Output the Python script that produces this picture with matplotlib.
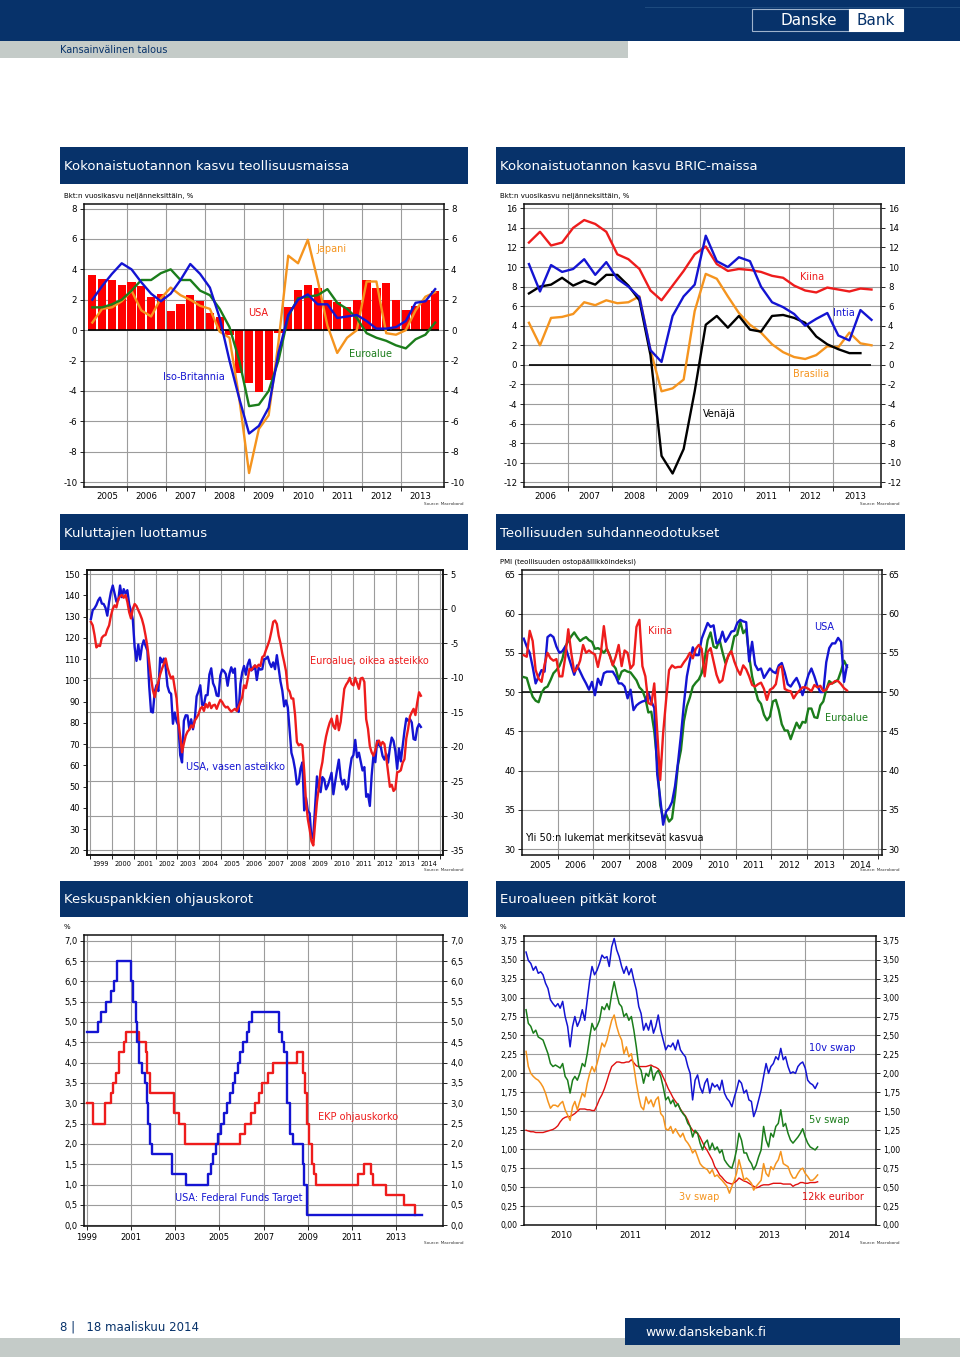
import numpy as np
import pandas as pd
import matplotlib
matplotlib.use("Agg")
import matplotlib.pyplot as plt
from matplotlib.patches import Rectangle
from matplotlib.ticker import FuncFormatter

plt.rcParams['font.family'] = ['DejaVu Sans']
plt.rcParams['axes.unicode_minus'] = False

# ---------------- DATA ----------------
# Chart 1: GDP growth, industrialised countries, quarterly 2005Q1-2013Q4
c1_usa = [3.6, 3.35, 3.3, 3.0, 3.15, 2.9, 2.15, 2.4, 1.25, 1.7, 2.3, 1.9,
          1.1, 0.85, -0.3, -2.8, -3.5, -4.1, -3.3, -0.2, 1.55, 2.65, 3.0, 2.75,
          2.0, 1.85, 1.55, 2.0, 3.3, 2.8, 3.1, 2.0, 1.3, 1.6, 2.0, 2.55]
c1_uk = [2.0, 2.9, 3.7, 4.4, 4.0, 3.15, 2.4, 1.9, 2.4, 3.3, 4.35, 3.7,
         2.8, 0.8, -2.0, -4.5, -6.8, -6.3, -5.1, -1.5, 1.0, 2.0, 2.35, 1.7,
         1.7, 0.8, 0.9, 1.0, 0.6, 0.1, 0.1, 0.2, 0.6, 1.8, 1.9, 2.7]
c1_euro = [1.5, 1.5, 1.7, 2.0, 2.6, 3.3, 3.3, 3.75, 4.0, 3.3, 3.3, 2.6,
           2.3, 1.4, 0.2, -2.0, -5.0, -4.9, -4.0, -2.0, 0.9, 2.1, 2.2, 2.3,
           2.7, 1.8, 1.4, 0.8, -0.2, -0.5, -0.7, -1.0, -1.2, -0.6, -0.3, 0.5]
c1_japan = [0.5, 1.4, 1.5, 1.9, 2.6, 1.3, 0.9, 2.1, 2.8, 2.3, 2.0, 1.6,
            1.4, -0.1, -0.5, -4.5, -9.4, -6.5, -5.6, -0.8, 4.9, 4.4, 5.95, 3.3,
            0.3, -1.5, -0.5, 0.0, 3.2, 3.2, -0.2, -0.3, 0.0, 1.3, 2.2, 2.5]
c1_years = list(range(2005, 2014))

# Chart 2: GDP growth, BRIC, quarterly 2006Q1-2013Q4
c2_china = [12.5, 13.6, 12.2, 12.5, 14.0, 14.8, 14.4, 13.6, 11.3, 10.8, 9.8, 7.6,
            6.6, 8.1, 9.6, 11.3, 12.1, 10.3, 9.6, 9.8, 9.7, 9.5, 9.1, 8.9,
            8.1, 7.6, 7.4, 7.9, 7.7, 7.5, 7.8, 7.7]
c2_india = [10.3, 7.5, 10.2, 9.5, 9.8, 10.8, 9.2, 10.5, 8.8, 8.0, 6.9, 1.5,
            0.3, 5.0, 7.0, 8.2, 13.2, 10.6, 10.0, 11.0, 10.6, 8.0, 6.4, 5.9,
            5.2, 4.0, 4.7, 5.3, 3.0, 2.5, 5.6, 4.6]
c2_russia = [7.3, 8.0, 8.2, 8.9, 8.1, 8.6, 8.2, 9.2, 9.2, 8.1, 6.6, 1.0,
             -9.3, -11.1, -8.6, -2.7, 4.1, 5.0, 3.8, 5.0, 3.6, 3.4, 5.0, 5.1,
             4.8, 4.3, 2.9, 2.1, 1.6, 1.2, 1.2]
c2_brazil = [4.3, 2.0, 4.8, 4.9, 5.2, 6.4, 6.1, 6.6, 6.3, 6.4, 7.0, 1.5,
             -2.7, -2.4, -1.5, 5.5, 9.3, 8.8, 7.0, 5.3, 4.1, 3.3, 2.1, 1.3,
             0.8, 0.6, 1.0, 1.9, 1.8, 3.3, 2.2, 2.0]
c2_years = list(range(2006, 2014))

# Chart 3: consumer confidence, monthly Jan 1999 - Feb 2014
c3_usa = [128.9, 133.1, 134.0, 135.5, 137.7, 139.0, 136.2, 136.0, 134.2, 130.5, 137.0, 141.7,
          144.7, 140.8, 137.1, 137.7, 144.7, 139.2, 143.0, 140.8, 142.5, 135.8, 132.6, 128.6,
          115.7, 109.2, 116.9, 109.9, 116.1, 118.9, 116.3, 114.0, 97.0, 85.3, 84.9, 94.6,
          97.8, 95.0, 110.7, 108.5, 110.3, 106.3, 97.4, 94.5, 93.7, 79.6, 84.9, 80.7,
          78.8, 64.8, 61.4, 81.0, 83.6, 83.5, 77.0, 81.7, 77.0, 81.7, 92.5, 94.8,
          97.7, 88.5, 88.5, 93.0, 93.1, 102.8, 105.7, 98.7, 96.7, 92.9, 92.6, 102.3,
          105.1, 104.4, 103.0, 97.5, 103.1, 106.2, 103.6, 105.6, 87.5, 85.2, 98.3, 103.8,
          106.8, 102.7, 107.5, 109.8, 104.7, 105.4, 107.0, 100.2, 105.9, 105.1, 105.3, 110.0,
          110.2, 111.2, 108.2, 106.3, 108.5, 105.3, 111.9, 105.6, 99.5, 95.2, 87.8, 90.6,
          87.3, 76.4, 65.9, 62.8, 58.1, 51.0, 51.9, 58.5, 61.4, 38.8, 44.7, 38.6,
          37.4, 25.3, 26.9, 40.8, 54.8, 49.3, 47.4, 54.5, 53.4, 48.7, 50.6, 53.6,
          56.5, 46.4, 52.3, 57.7, 62.7, 54.3, 51.0, 53.2, 48.6, 49.9, 57.8, 63.4,
          64.8, 72.0, 63.8, 66.0, 61.7, 57.6, 59.2, 45.2, 46.4, 40.9, 55.2, 64.8,
          61.5, 71.6, 69.5, 68.7, 64.4, 62.7, 65.4, 61.3, 68.4, 73.1, 71.5, 66.7,
          58.4, 68.0, 61.9, 69.0, 76.2, 82.1, 81.0, 81.8, 80.2, 72.4, 72.0, 77.5,
          79.4, 78.1]
c3_euro = [-1.9, -2.4, -3.8, -5.6, -5.3, -5.4, -4.2, -3.9, -3.8, -3.0, -2.4, -1.0,
           0.0, 0.5, 0.2, 1.4, 1.8, 2.0, 1.6, 2.0, 1.0, -0.5, -1.4, 0.0,
           0.7, 0.4, -0.2, -0.8, -1.5, -2.5, -3.9, -5.5, -7.7, -10.0, -11.8, -12.8,
           -11.5, -10.6, -9.5, -8.7, -8.0, -7.2, -8.5, -9.4, -10.1, -9.8, -11.5, -13.0,
           -16.4, -18.5, -20.8, -19.5, -18.4, -17.8, -17.5, -16.9, -17.2, -16.2, -15.8, -15.3,
           -14.5, -14.2, -14.8, -13.8, -14.3, -13.6, -14.4, -14.0, -13.9, -14.5, -13.8, -13.2,
           -13.5, -14.0, -14.3, -14.2, -14.6, -14.9, -14.7, -14.5, -14.8, -14.2, -13.5, -12.8,
           -11.1, -11.5, -10.2, -8.7, -8.9, -8.5, -8.2, -8.5, -8.1, -8.3, -7.0, -6.8,
           -6.0, -5.3, -4.5, -3.3, -1.9, -1.7, -2.2, -3.9, -5.0, -6.5, -7.7, -9.0,
           -11.6, -12.0, -13.0, -13.0, -15.4, -19.3, -19.8, -19.6, -19.8, -23.5, -28.0, -30.5,
           -32.0, -33.7, -34.3, -31.0, -28.0, -26.0, -23.5, -22.2, -20.0, -18.5, -17.4, -16.5,
           -15.9, -17.0, -17.4, -15.5, -17.6, -16.4, -14.0, -11.6, -11.0, -10.6, -10.0, -10.9,
           -11.1, -10.0, -10.8, -11.6, -10.1, -10.0, -10.6, -16.0, -17.4, -19.9, -20.8, -21.3,
           -20.5, -19.3, -19.1, -19.8, -19.3, -19.6, -21.5, -23.7, -25.8, -25.5, -26.4, -26.1,
           -23.7, -23.6, -23.4, -22.3, -21.8, -18.8, -17.4, -15.6, -15.0, -14.5, -15.4, -13.6,
           -12.1, -12.6]
c3_years = list(range(1999, 2015))

# Chart 4: manufacturing PMI, monthly Jan 2005 - Feb 2014
c4_usa = [56.8, 55.8, 55.0, 53.2, 51.1, 52.0, 52.8, 52.6, 57.0, 57.3, 57.0, 55.8,
          55.0, 55.2, 55.8, 54.6, 53.4, 52.2, 53.4, 52.6, 51.8, 51.1, 50.3, 51.3,
          49.6, 51.7, 50.9, 52.4, 52.6, 52.6, 52.6, 52.0, 51.1, 51.1, 50.7, 49.2,
          50.3, 47.7, 48.3, 48.6, 48.8, 48.9, 49.9, 48.8, 48.0, 39.5, 36.5, 33.1,
          34.8, 35.2, 36.0, 38.0, 41.0, 44.5, 48.5, 52.0, 54.0, 55.7, 54.7, 54.7,
          56.8, 57.8, 58.8, 58.3, 58.5, 56.2, 56.4, 57.7, 56.4, 57.0, 57.7, 57.8,
          58.8, 59.2, 59.0, 58.9, 53.9, 56.4, 53.5, 52.8, 53.0, 51.8, 52.4, 53.0,
          52.6, 52.4, 53.4, 53.7, 52.5, 51.0, 50.7, 51.3, 51.8, 50.9, 49.6, 50.9,
          52.2, 53.0, 52.0, 50.8, 50.0, 50.0, 53.8, 55.6, 56.2, 56.2, 56.9, 56.4,
          51.3, 53.4]
c4_china = [54.7, 54.5, 57.8, 56.5, 52.8, 51.7, 51.3, 53.5, 55.0, 54.3, 54.0, 54.2,
            52.0, 52.0, 54.5, 58.0, 55.0, 52.6, 53.0, 54.0, 56.0, 55.0, 55.3, 55.0,
            54.8, 53.2, 55.0, 58.4, 55.5, 54.6, 53.4, 54.5, 56.0, 53.3, 55.3, 55.0,
            53.0, 53.5, 58.3, 59.2, 53.3, 52.0, 48.6, 48.4, 51.1, 45.0, 38.8, 44.8,
            49.0, 52.8, 53.4, 53.1, 53.2, 53.2, 53.8, 54.3, 55.0, 54.3, 55.5, 56.0,
            55.5, 52.0, 55.1, 55.6, 53.9, 52.2, 51.2, 51.5, 53.4, 54.7, 55.2, 53.9,
            52.9, 52.2, 53.4, 52.9, 52.0, 50.9, 50.7, 51.0, 51.2, 50.4, 49.0, 50.3,
            50.5, 51.0, 53.1, 53.3, 50.4, 50.2, 50.1, 49.2, 49.8, 50.2, 50.6, 50.6,
            50.4, 50.1, 50.9, 50.6, 50.8, 50.1, 50.3, 51.0, 51.1, 51.4, 51.4, 51.0,
            50.5, 50.2]
c4_euro = [51.9, 51.8, 50.5, 49.4, 48.9, 48.7, 49.9, 50.5, 50.7, 51.5, 52.4, 52.8,
           53.3, 54.2, 55.8, 56.5, 57.1, 57.6, 57.0, 56.5, 56.8, 57.0, 56.6, 56.4,
           55.5, 55.6, 55.4, 55.0, 55.5, 54.7, 53.5, 53.0, 51.6, 52.6, 52.8, 52.6,
           52.5, 52.0, 51.5, 50.6, 50.2, 49.2, 47.4, 47.5, 45.0, 41.1, 35.6, 33.9,
           34.4, 33.5, 33.9, 36.8, 40.7, 42.6, 46.3, 48.2, 49.3, 50.7, 51.2, 51.6,
           52.4, 54.2, 56.6, 57.6, 55.8, 55.6, 56.7, 55.1, 53.7, 54.6, 55.3, 57.1,
           57.3, 59.0, 57.5, 58.0, 54.6, 52.0, 50.4, 49.0, 48.5, 47.1, 46.4, 46.9,
           48.8, 49.0, 47.7, 45.9, 45.1, 45.1, 44.0, 45.1, 46.1, 45.4, 46.2, 46.1,
           47.9, 47.9, 46.8, 46.7, 48.3, 48.8, 50.3, 51.4, 51.1, 51.3, 51.6, 52.7,
           54.0, 53.2]
c4_years = list(range(2005, 2015))

# Chart 5: policy rates (change dates, new level)
c5_fed_dates = ["1999-01-01", "1999-06-30", "1999-08-24", "1999-11-16", "2000-02-02", "2000-03-21",
                "2000-05-16", "2001-01-03", "2001-01-31", "2001-03-20", "2001-04-18", "2001-05-15",
                "2001-06-27", "2001-08-21", "2001-09-17", "2001-10-02", "2001-11-06", "2001-12-11",
                "2002-11-06", "2003-06-25", "2004-06-30", "2004-08-10", "2004-09-21", "2004-11-10",
                "2004-12-14", "2005-02-02", "2005-03-22", "2005-05-03", "2005-06-30", "2005-08-09",
                "2005-09-20", "2005-11-01", "2005-12-13", "2006-01-31", "2006-03-28", "2006-05-10",
                "2006-06-29", "2007-09-18", "2007-10-31", "2007-12-11", "2008-01-22", "2008-01-30",
                "2008-03-18", "2008-04-30", "2008-10-08", "2008-10-29", "2008-12-16", "2014-03-10"]
c5_fed = [4.75, 5.00, 5.25, 5.50, 5.75, 6.00, 6.50, 6.00, 5.50, 5.00, 4.50, 4.00,
          3.75, 3.50, 3.00, 2.50, 2.00, 1.75, 1.25, 1.00, 1.25, 1.50, 1.75, 2.00,
          2.25, 2.50, 2.75, 3.00, 3.25, 3.50, 3.75, 4.00, 4.25, 4.50, 4.75, 5.00,
          5.25, 4.75, 4.50, 4.25, 3.50, 3.00, 2.25, 2.00, 1.50, 1.00, 0.25, 0.25]
c5_ecb_dates = ["1999-01-01", "1999-04-09", "1999-11-05", "2000-02-04", "2000-03-17", "2000-04-28",
                "2000-06-09", "2000-09-01", "2000-10-06", "2001-05-11", "2001-08-31", "2001-09-18",
                "2001-11-09", "2002-12-06", "2003-03-07", "2003-06-06", "2005-12-06", "2006-03-08",
                "2006-06-15", "2006-08-09", "2006-10-11", "2006-12-13", "2007-03-14", "2007-06-13",
                "2008-07-09", "2008-10-15", "2008-11-12", "2008-12-10", "2009-01-21", "2009-03-11",
                "2009-04-08", "2009-05-13", "2011-04-13", "2011-07-13", "2011-11-09", "2011-12-14",
                "2012-07-11", "2013-05-08", "2013-11-13", "2013-11-15"]
c5_ecb = [3.00, 2.50, 3.00, 3.25, 3.50, 3.75, 4.25, 4.50, 4.75, 4.50, 4.25, 3.75,
          3.25, 2.75, 2.50, 2.00, 2.25, 2.50, 2.75, 3.00, 3.25, 3.50, 3.75, 4.00,
          4.25, 3.75, 3.25, 2.50, 2.00, 1.50, 1.25, 1.00, 1.25, 1.50, 1.25, 1.00,
          0.75, 0.50, 0.25, 0.25]
c5_ticks = list(range(1999, 2014, 2))

# Chart 6: euro long rates, roughly biweekly Jan 2010 - Mar 2014
c6_start, c6_end = "2010-01-01", "2014-03-10"
c6_swap10 = [3.60, 3.49, 3.45, 3.36, 3.41, 3.32, 3.34, 3.30, 3.19, 3.12,
             2.97, 2.92, 2.88, 2.92, 2.86, 2.95, 2.75, 2.62, 2.35, 2.62,
             2.75, 2.62, 2.70, 2.84, 2.70, 2.97, 3.23, 3.41, 3.30, 3.36,
             3.45, 3.56, 3.52, 3.54, 3.41, 3.67, 3.78, 3.63, 3.54, 3.41,
             3.32, 3.41, 3.30, 3.38, 3.23, 3.10, 2.88, 2.79, 2.57, 2.66,
             2.57, 2.70, 2.53, 2.62, 2.77, 2.57, 2.44, 2.31, 2.37, 2.35,
             2.40, 2.31, 2.44, 2.31, 2.26, 2.22, 2.09, 2.00, 1.65, 1.91,
             1.98, 1.82, 1.74, 1.87, 1.93, 1.74, 1.87, 1.82, 1.85, 1.78,
             1.91, 1.74, 1.67, 1.63, 1.56, 1.69, 1.78, 1.91, 1.87, 1.74,
             1.78, 1.65, 1.63, 1.43, 1.52, 1.65, 1.78, 1.96, 2.13, 2.00,
             2.09, 2.13, 2.22, 2.18, 2.33, 2.18, 2.22, 2.09, 2.00, 2.02,
             2.00, 2.09, 2.13, 2.15, 2.07, 1.91, 1.87, 1.85, 1.80, 1.87]
c6_swap5 = [2.84, 2.66, 2.62, 2.53, 2.57, 2.48, 2.46, 2.44, 2.35, 2.26,
            2.13, 2.09, 2.11, 2.09, 2.07, 2.13, 1.96, 1.91, 1.74, 1.91,
            1.96, 1.91, 2.00, 2.13, 2.09, 2.26, 2.48, 2.66, 2.57, 2.62,
            2.70, 2.88, 2.84, 2.92, 2.84, 3.05, 3.21, 3.05, 2.92, 2.88,
            2.75, 2.79, 2.70, 2.75, 2.57, 2.35, 2.09, 2.04, 1.87, 2.00,
            1.96, 2.09, 1.91, 2.00, 2.04, 1.96, 1.82, 1.65, 1.69, 1.60,
            1.65, 1.56, 1.60, 1.52, 1.47, 1.43, 1.34, 1.30, 1.16, 1.25,
            1.21, 1.08, 0.99, 1.08, 1.12, 0.99, 1.08, 0.99, 1.03, 0.95,
            0.99, 0.86, 0.81, 0.77, 0.75, 0.86, 0.99, 1.21, 1.12, 0.95,
            0.95, 0.86, 0.81, 0.73, 0.79, 0.90, 0.99, 1.30, 1.12, 1.03,
            1.21, 1.16, 1.30, 1.34, 1.52, 1.30, 1.34, 1.21, 1.12, 1.08,
            1.12, 1.16, 1.21, 1.27, 1.16, 1.08, 1.03, 1.01, 0.99, 1.03]
c6_swap3 = [2.29, 2.09, 2.00, 1.96, 1.93, 1.91, 1.87, 1.82, 1.74, 1.63,
            1.54, 1.58, 1.58, 1.56, 1.60, 1.63, 1.52, 1.45, 1.38, 1.56,
            1.63, 1.52, 1.63, 1.74, 1.69, 1.87, 2.00, 2.09, 2.02, 2.13,
            2.26, 2.40, 2.35, 2.44, 2.57, 2.70, 2.77, 2.62, 2.51, 2.44,
            2.26, 2.35, 2.22, 2.26, 2.09, 1.87, 1.69, 1.56, 1.52, 1.69,
            1.60, 1.65, 1.56, 1.65, 1.69, 1.47, 1.43, 1.27, 1.25, 1.30,
            1.21, 1.27, 1.21, 1.16, 1.21, 1.12, 1.08, 1.03, 0.95, 0.99,
            0.90, 0.81, 0.77, 0.75, 0.73, 0.68, 0.73, 0.64, 0.66, 0.62,
            0.59, 0.55, 0.51, 0.42, 0.51, 0.59, 0.68, 0.86, 0.73, 0.59,
            0.62, 0.59, 0.55, 0.46, 0.51, 0.55, 0.59, 0.81, 0.68, 0.64,
            0.77, 0.73, 0.81, 0.86, 0.97, 0.81, 0.79, 0.77, 0.68, 0.62,
            0.62, 0.68, 0.73, 0.75, 0.68, 0.64, 0.59, 0.59, 0.62, 0.66]
c6_euribor = [1.25, 1.24, 1.23, 1.23, 1.22, 1.22, 1.22, 1.22, 1.23, 1.24,
              1.25, 1.26, 1.28, 1.31, 1.36, 1.40, 1.42, 1.43, 1.43, 1.45,
              1.47, 1.50, 1.53, 1.53, 1.53, 1.52, 1.52, 1.51, 1.51, 1.58,
              1.66, 1.72, 1.80, 1.90, 2.00, 2.09, 2.12, 2.15, 2.15, 2.14,
              2.14, 2.15, 2.15, 2.18, 2.14, 2.10, 2.09, 2.09, 2.09, 2.09,
              2.10, 2.11, 2.09, 2.08, 2.06, 2.02, 1.95, 1.88, 1.80, 1.74,
              1.68, 1.63, 1.59, 1.53, 1.48, 1.44, 1.38, 1.30, 1.25, 1.22,
              1.21, 1.16, 1.09, 1.03, 0.98, 0.92, 0.86, 0.77, 0.72, 0.66,
              0.63, 0.59, 0.56, 0.55, 0.54, 0.56, 0.58, 0.62, 0.60, 0.58,
              0.57, 0.55, 0.53, 0.51, 0.49, 0.50, 0.52, 0.53, 0.53, 0.53,
              0.54, 0.55, 0.55, 0.55, 0.55, 0.54, 0.54, 0.54, 0.54, 0.51,
              0.53, 0.54, 0.56, 0.56, 0.55, 0.55, 0.56, 0.56, 0.56, 0.57]
c6_years = list(range(2010, 2015))

# ---------------- HELPERS ----------------
W, H = 960, 1357
NAVY = '#07326a'
GRAYBAND = '#c4cbc8'
GRID = '#9c9c9c'
RED = '#ee1c1c'
BLUE = '#1414d2'
GREEN = '#1b7d1b'
ORANGE = '#f5941e'

fig = plt.figure(figsize=(W / 100, H / 100), dpi=100)


def add_ax(x0, y0, x1, y1):
    return fig.add_axes([x0 / W, 1 - y1 / H, (x1 - x0) / W, (y1 - y0) / H])


def rect(x0, y0, x1, y1, **kw):
    fig.add_artist(Rectangle((x0 / W, 1 - y1 / H), (x1 - x0) / W, (y1 - y0) / H,
                             transform=fig.transFigure, **kw))


def ftext(x, y, s, **kw):
    fig.text(x / W, 1 - y / H, s, **kw)


def decyear(s):
    ts = pd.Timestamp(s)
    return ts.year + (ts.dayofyear - 1) / 365.25


def style(ax, fs_y, fs_x):
    for sp in ax.spines.values():
        sp.set_linewidth(1.1)
        sp.set_color('#111111')
    ax.tick_params(axis='y', which='major', labelsize=fs_y, length=3, width=0.6, pad=2,
                   left=True, right=True, labelleft=True, labelright=True)
    ax.tick_params(axis='x', which='major', length=3, width=0.6, labelsize=fs_x, pad=3)
    ax.tick_params(axis='x', which='minor', length=0, labelsize=fs_x, pad=4)
    ax.set_axisbelow(True)


def year_mid_labels(ax, years, fs):
    ax.set_xticks([y + 0.5 for y in years], minor=True)
    ax.set_xticklabels([str(y) for y in years], minor=True, fontsize=fs)


def src(x, y):
    ftext(x, y, 'Source: Macrobond', fontsize=3, ha='right', va='center', color='#333333')


comma1 = FuncFormatter(lambda v, p: f"{v:.1f}".replace('.', ','))
comma2 = FuncFormatter(lambda v, p: f"{v:.2f}".replace('.', ','))

# ---------------- PAGE DECORATION ----------------
rect(0, 0, 960, 41, color=NAVY, lw=0)
rect(645, 7, 960, 8, color='#1d4a7e', lw=0)
rect(0, 41, 628, 58, color=GRAYBAND, lw=0)
ftext(60, 50, 'Kansainvälinen talous', fontsize=7, color=NAVY, va='center', ha='left')
rect(752, 9, 849, 31, facecolor='none', edgecolor='#9fb3cc', lw=0.8)
ftext(809, 20.5, 'Danske', fontsize=11, color='white', va='center', ha='center')
rect(849, 9, 903, 31, facecolor='white', edgecolor='white', lw=0.8)
ftext(876, 20.5, 'Bank', fontsize=11, color=NAVY, va='center', ha='center')

titles = [(60, 147, 468, 184, 'Kokonaistuotannon kasvu teollisuusmaissa'),
          (496, 147, 905, 184, 'Kokonaistuotannon kasvu BRIC-maissa'),
          (60, 514, 468, 550, 'Kuluttajien luottamus'),
          (496, 514, 905, 550, 'Teollisuuden suhdanneodotukset'),
          (60, 881, 468, 917, 'Keskuspankkien ohjauskorot'),
          (496, 881, 905, 917, 'Euroalueen pitkät korot')]
for x0, y0, x1, y1, t in titles:
    rect(x0, y0, x1, y1, color=NAVY, lw=0)
    ftext(x0 + 4, (y0 + y1) / 2 + 1, t, fontsize=9.5, color='white', va='center', ha='left')

rect(0, 1338, 960, 1357, color=GRAYBAND, lw=0)
rect(625, 1318, 900, 1345, color=NAVY, lw=0)
ftext(645, 1333, 'www.danskebank.fi', fontsize=9, color='white', va='center', ha='left')
ftext(60, 1327, '8 |   18 maaliskuu 2014', fontsize=8.5, color=NAVY, va='center', ha='left')

# ---------------- CHART 1 ----------------
ax = add_ax(84.3, 204, 444, 486.7)
q1 = np.array(c1_years[0] + (np.arange(len(c1_usa)) + 0.5) / 4)
ax.bar(q1, c1_usa, width=0.21, color='#ff0000', lw=0, zorder=2)
ax.hlines(0, q1[0] - 0.1, q1[-1] + 0.1, color='black', lw=1.2, zorder=3)
ax.plot(q1, c1_japan, color=ORANGE, lw=1.7, zorder=4)
ax.plot(q1, c1_euro, color=GREEN, lw=1.7, zorder=5)
ax.plot(q1, c1_uk, color=BLUE, lw=1.7, zorder=6)
ax.set_xlim(2004.92, 2014.1)
ax.set_ylim(-10.3, 8.3)
ax.set_yticks(np.arange(-10, 9, 2))
ax.set_xticks(c1_years[1:])
ax.set_xticklabels([])
year_mid_labels(ax, c1_years, 6.2)
ax.grid(True, which='major', color=GRID, lw=0.8)
style(ax, 6.2, 6.2)
ftext(64, 196, 'Bkt:n vuosikasvu neljänneksittäin, %', fontsize=5, ha='left', va='center')
ftext(332, 249, 'Japani', color=ORANGE, fontsize=7, ha='center', va='center')
ftext(258, 313, 'USA', color='#ee1111', fontsize=7, ha='center', va='center')
ftext(371, 354, 'Euroalue', color=GREEN, fontsize=7, ha='center', va='center')
ftext(194, 377, 'Iso-Britannia', color=BLUE, fontsize=7, ha='center', va='center')
src(463, 504)

# ---------------- CHART 2 ----------------
ax = add_ax(524.3, 204, 881, 486.7)
q2 = np.array(c2_years[0] + (np.arange(len(c2_china)) + 0.5) / 4)
ax.hlines(0, q2[0], q2[-1], color='black', lw=1.2, zorder=2)
ax.plot(q2, c2_china, color=RED, lw=1.7, zorder=3)
ax.plot(q2, c2_brazil, color=ORANGE, lw=1.7, zorder=3)
ax.plot(q2[:len(c2_russia)], c2_russia, color='black', lw=1.7, zorder=4)
ax.plot(q2, c2_india, color=BLUE, lw=1.7, zorder=5)
ax.set_xlim(2006.02, 2014.09)
ax.set_ylim(-12.45, 16.44)
ax.set_yticks(np.arange(-12, 17, 2))
ax.set_xticks(c2_years[1:])
ax.set_xticklabels([])
year_mid_labels(ax, c2_years, 6.2)
ax.grid(True, which='major', color=GRID, lw=0.8)
style(ax, 6.2, 6.2)
ftext(500, 196, 'Bkt:n vuosikasvu neljänneksittäin, %', fontsize=5, ha='left', va='center')
ftext(812, 277, 'Kiina', color=RED, fontsize=7, ha='center', va='center')
ftext(844, 313, 'Intia', color=BLUE, fontsize=7, ha='center', va='center')
ftext(811, 374, 'Brasilia', color=ORANGE, fontsize=7, ha='center', va='center')
ftext(719, 414, 'Venäjä', color='black', fontsize=7, ha='center', va='center')
src(900, 504)

# ---------------- CHART 3 ----------------
ax = add_ax(86.7, 570, 443.3, 855)
ax2 = ax.twinx()
m3 = np.array(c3_years[0] + (np.arange(len(c3_usa)) + 0.5) / 12)
L0, L1 = 17.8, 152.0
R0, R1 = -35.68, 5.62
ax.set_ylim(L0, L1)
ax2.set_ylim(R0, R1)
right_ticks = np.arange(-35, 6, 5)
for r in right_ticks:
    ax.axhline(L0 + (r - R0) * (L1 - L0) / (R1 - R0), color=GRID, lw=0.8, zorder=0.5)
ax.plot(m3, c3_usa, color=BLUE, lw=1.7, zorder=3)
ax2.plot(m3, c3_euro, color=RED, lw=1.7, zorder=3)
ax.set_xlim(1998.85, 2015.15)
ax.set_yticks(np.arange(20, 151, 10))
ax2.set_yticks(right_ticks)
ax.set_xticks(list(range(1999, 2016)))
ax.set_xticklabels([])
year_mid_labels(ax, c3_years, 4.8)
ax.grid(True, which='major', axis='x', color=GRID, lw=0.8)
for a in (ax, ax2):
    for sp in a.spines.values():
        sp.set_linewidth(1.1)
        sp.set_color('#111111')
ax.tick_params(axis='y', labelsize=6, length=3, width=0.6, pad=2, right=False)
ax2.tick_params(axis='y', labelsize=6, length=3, width=0.6, pad=2)
ax.tick_params(axis='x', which='major', length=3, width=0.6)
ax.tick_params(axis='x', which='minor', length=0, labelsize=4.8, pad=4)
ax.set_axisbelow(True)
ftext(369, 661, 'Euroalue, oikea asteikko', color=RED, fontsize=7, ha='center', va='center')
ftext(236, 767, 'USA, vasen asteikko', color=BLUE, fontsize=7, ha='center', va='center')
src(463, 870)

# ---------------- CHART 4 ----------------
ax = add_ax(522.3, 570, 881.7, 855)
m4 = np.array(c4_years[0] + (np.arange(len(c4_usa)) + 0.5) / 12)
ax.axhline(50, color='black', lw=1.1, zorder=2)
ax.plot(m4, c4_euro, color=GREEN, lw=1.7, zorder=3)
ax.plot(m4, c4_usa, color=BLUE, lw=1.7, zorder=4)
ax.plot(m4, c4_china, color=RED, lw=1.7, zorder=5)
ax.set_xlim(2005.0, 2015.1)
ax.set_ylim(29.24, 65.55)
ax.set_yticks(np.arange(30, 66, 5))
ax.set_xticks(list(range(2006, 2016)))
ax.set_xticklabels([])
year_mid_labels(ax, c4_years, 6.2)
ax.grid(True, which='major', color=GRID, lw=0.8)
style(ax, 6.2, 6.2)
ftext(500, 562, 'PMI (teollisuuden ostopäällikköindeksi)', fontsize=5, ha='left', va='center')
ftext(660, 631, 'Kiina', color=RED, fontsize=7, ha='center', va='center')
ftext(824, 627, 'USA', color=BLUE, fontsize=7, ha='center', va='center')
ftext(846, 718, 'Euroalue', color=GREEN, fontsize=7, ha='center', va='center')
ftext(525, 838, 'Yli 50:n lukemat merkitsevät kasvua', color='black', fontsize=7, ha='left', va='center')
src(900, 870)

# ---------------- CHART 5 ----------------
ax = add_ax(84.3, 935, 443.3, 1226)
fx = [decyear(d) for d in c5_fed_dates]
ex = [decyear(d) for d in c5_ecb_dates]
ax.step(ex, c5_ecb, where='post', color=RED, lw=1.7, zorder=3)
ax.step(fx, c5_fed, where='post', color=BLUE, lw=1.7, zorder=4)
ax.set_xlim(1998.89, 2015.13)
ax.set_ylim(-0.02, 7.14)
ax.set_yticks(np.arange(0, 7.01, 0.5))
ax.yaxis.set_major_formatter(comma1)
ax.set_xticks(c5_ticks)
ax.set_xticklabels([str(y) for y in c5_ticks])
ax.grid(True, which='major', color=GRID, lw=0.8)
style(ax, 6, 6)
ax.tick_params(axis='x', pad=2)
ftext(64, 927, '%', fontsize=5, ha='left', va='center')
ftext(358, 1117, 'EKP ohjauskorko', color=RED, fontsize=7, ha='center', va='center')
ftext(239, 1198, 'USA: Federal Funds Target', color=BLUE, fontsize=7, ha='center', va='center')
src(463, 1243)

# ---------------- CHART 6 ----------------
ax = add_ax(524.3, 935.7, 875.7, 1225.3)
d6 = pd.date_range(c6_start, c6_end, periods=len(c6_swap10))
x6 = np.array([decyear(d) for d in d6])
ax.plot(x6, c6_euribor, color='#e01010', lw=1.0, zorder=3)
ax.plot(x6, c6_swap3, color=ORANGE, lw=1.1, zorder=4)
ax.plot(x6, c6_swap5, color=GREEN, lw=1.1, zorder=5)
ax.plot(x6, c6_swap10, color=BLUE, lw=1.1, zorder=6)
ax.set_xlim(2009.975, 2015.02)
ax.set_ylim(-0.004, 3.816)
ax.set_yticks(np.arange(0, 3.76, 0.25))
ax.yaxis.set_major_formatter(comma2)
ax.set_xticks(c6_years[1:])
ax.set_xticklabels([])
year_mid_labels(ax, c6_years, 6.2)
ax.grid(True, which='major', color=GRID, lw=0.8)
style(ax, 5.6, 6.2)
ftext(500, 927, '%', fontsize=5, ha='left', va='center')
ftext(832, 1048, '10v swap', color=BLUE, fontsize=7, ha='center', va='center')
ftext(829, 1120, '5v swap', color=GREEN, fontsize=7, ha='center', va='center')
ftext(699, 1197, '3v swap', color=ORANGE, fontsize=7, ha='center', va='center')
ftext(833, 1197, '12kk euribor', color='#e01010', fontsize=7, ha='center', va='center')
src(900, 1243)

fig.savefig('out.png', dpi=100)
